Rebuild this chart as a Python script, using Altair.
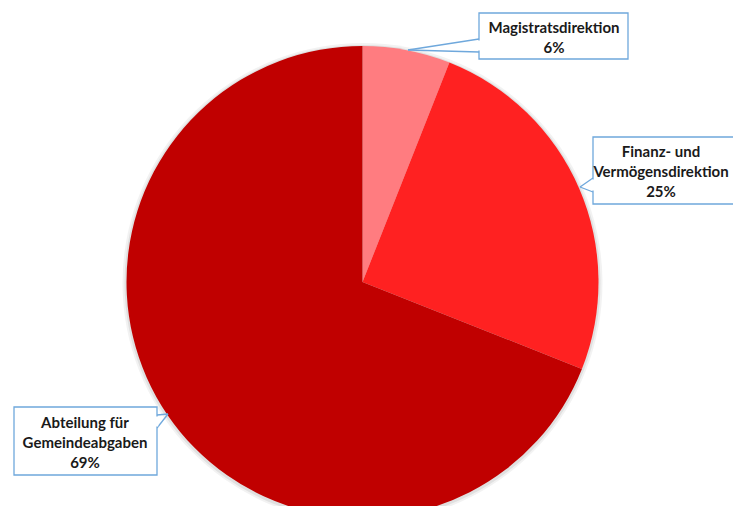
import altair as alt
import pandas as pd

# ---- data ----
categories = ["Magistratsdirektion", "Finanz- und Vermögensdirektion", "Abteilung für Gemeindeabgaben"]
label_lines = [["Magistratsdirektion"], ["Finanz- und", "Vermögensdirektion"], ["Abteilung für", "Gemeindeabgaben"]]
shares = [6, 25, 69]
colors = ["#FF7C80", "#FF2121", "#C00000"]

df = pd.DataFrame({"cat": categories, "share": shares, "idx": list(range(len(categories)))})

# ---- layout (page coords minus 8px body margin) ----
CX, CY, R = 354.5, 274, 236
W, H = 725, 498
BORDER = "#6FA8DC"
FONT = "Lato"

base = alt.Chart(df)

shadow1 = base.mark_arc(outerRadius=R + 4, color="#000000", opacity=0.05).encode(
    theta=alt.Theta("share:Q", stack=True), order=alt.Order("idx:Q"),
    x=alt.value(CX), y=alt.value(CY + 1))
shadow2 = base.mark_arc(outerRadius=R + 2, color="#000000", opacity=0.07).encode(
    theta=alt.Theta("share:Q", stack=True), order=alt.Order("idx:Q"),
    x=alt.value(CX), y=alt.value(CY + 1))

pie = base.mark_arc(outerRadius=R, stroke=None).encode(
    theta=alt.Theta("share:Q", stack=True),
    order=alt.Order("idx:Q"),
    color=alt.Color("cat:N", scale=alt.Scale(domain=categories, range=colors), legend=None),
    x=alt.value(CX), y=alt.value(CY),
)

# callout geometry per label: box (x1,y1,x2,y2), first-line text center, pointer (base1, tip, base2)
layout = {
    categories[0]: dict(box=(471, 5, 620, 51), tc=(546, 19.5),
                        ptr=((471, 31), (400, 42), (471, 44))),
    categories[1]: dict(box=(585, 129, 740, 196), tc=(653, 144),
                        ptr=((585, 170), (572, 179), (585, 184))),
    categories[2]: dict(box=(6, 399, 149, 467), tc=(77, 415),
                        ptr=((149, 407), (160, 406), (149, 420))),
}

dummy = alt.Chart(pd.DataFrame({"a": [0]}))
layers = [shadow1, shadow2, pie]
for cat, lines, v in zip(categories, label_lines, shares):
    L = layout[cat]
    (b1, tip, b2) = L["ptr"]
    for p in (b1, b2):
        layers.append(dummy.mark_rule(color=BORDER, strokeWidth=1.3).encode(
            x=alt.value(p[0]), y=alt.value(p[1]), x2=alt.value(tip[0]), y2=alt.value(tip[1])))
    x1, y1, x2, y2 = L["box"]
    layers.append(dummy.mark_rect(fill="white", stroke=BORDER, strokeWidth=1.3).encode(
        x=alt.value(x1), y=alt.value(y1), x2=alt.value(x2), y2=alt.value(y2)))
    layers.append(dummy.mark_rule(color="white", strokeWidth=2.5).encode(
        x=alt.value(b1[0]), y=alt.value(b1[1] + 1.5), x2=alt.value(b2[0]), y2=alt.value(b2[1] - 1.5)))
    layers.append(dummy.mark_text(
        text=lines + [f"{v}%"], font=FONT, fontSize=15, fontWeight="bold",
        color="#1a1a1a", lineHeight=20, align="center", baseline="middle").encode(
        x=alt.value(L["tc"][0]), y=alt.value(L["tc"][1])))

chart = alt.layer(*layers).properties(
    width=W, height=H,
    autosize=alt.AutoSizeParams(type="none"),
    padding=0,
).configure_view(stroke=None)

chart.save("out.html", embed_options={"renderer": "svg", "actions": False})
